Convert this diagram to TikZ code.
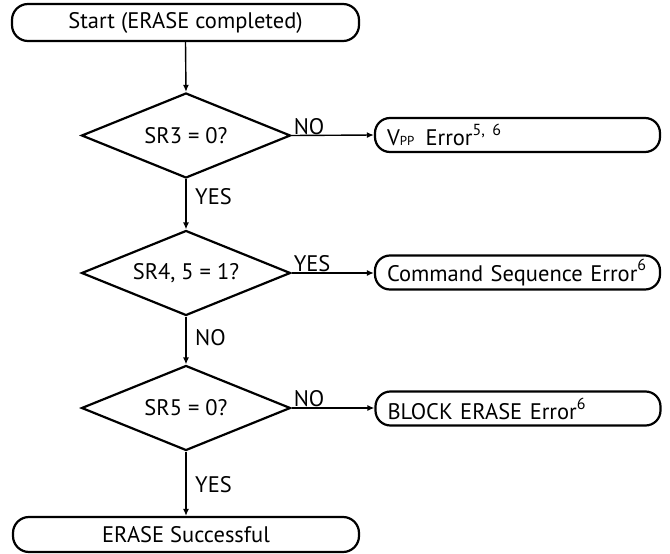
\documentclass[tikz,border=0pt]{standalone}
\usepackage{fontspec}
\setmainfont{PT Sans}
\usetikzlibrary{shapes.geometric,arrows.meta,calc}
\begin{document}
\begin{tikzpicture}[x=1pt,y=1pt,
  every node/.style={font=\fontsize{22.5}{26}\selectfont},
  term/.style={draw,line width=2.2pt,rounded corners=16pt,inner sep=0pt},
  dec/.style={draw,line width=2.2pt,diamond,aspect=2.46,inner sep=0pt,minimum width=209pt,minimum height=85pt},
  errbox/.style={draw,line width=2.2pt,rounded corners=15pt,inner xsep=12pt,inner ysep=0pt,text width=261pt,align=left,minimum height=34pt},
  conn/.style={line width=1.4pt,-{Latex[length=7pt,width=6pt]}},
  lbl/.style={inner sep=1pt},
  sup/.style={}]
\useasboundingbox (0,0) rectangle (670,-554);
\node[term,minimum width=347pt,minimum height=37pt] (start) at (185.5,-22.5) {Start (ERASE completed)};
\node[dec] (d1) at (186,-135.5) {SR3 = 0?};
\node[dec] (d2) at (186,-273) {SR4, 5 = 1?};
\node[dec] (d3) at (186,-408) {SR5 = 0?};
\node[errbox] (e1) at (517.5,-135) {V{\fontsize{13}{13}\selectfont PP}\ \,Error\raisebox{0.45em}{\fontsize{16}{16}\selectfont 5, 6}};
\node[errbox] (e2) at (517.5,-272.5) {Command Sequence Error\raisebox{0.45em}{\fontsize{16}{16}\selectfont 6}};
\node[errbox] (e3) at (518,-408.5) {BLOCK ERASE Error\raisebox{0.45em}{\fontsize{16}{16}\selectfont 6}};
\node[term,minimum width=346pt,minimum height=35pt] (end) at (186,-534.5) {ERASE Successful};
\draw[conn] (start.south) -- (d1.north);
\draw[conn] (d1.east) -- (e1.west);
\draw[conn] (d1.south) -- (d2.north);
\draw[conn] (d2.east) -- (e2.west |- d2.east);
\draw[conn] (d2.south) -- (d3.north);
\draw[conn] (d3.east) -- (e3.west |- d3.east);
\draw[conn] (d3.south) -- (end.north);
\node[lbl,anchor=south west] (l1) at ($(d1.east)+(1,0)$) {NO};
\node[lbl,anchor=south west] (l3) at ($(d2.east)+(1,0)$) {YES};
\node[lbl,anchor=south west] (l5) at ($(d3.east)+(1,0)$) {NO};
\node[lbl,anchor=west] (l2) at ($(d1.south)!0.35!(d2.north)+(8,0)$) {YES};
\node[lbl,anchor=west] (l4) at ($(d2.south)!0.45!(d3.north)+(8,0)$) {NO};
\node[lbl,anchor=west] (l6) at ($(d3.south)!0.52!(end.north)+(8,0)$) {YES};
\end{tikzpicture}
\end{document}
